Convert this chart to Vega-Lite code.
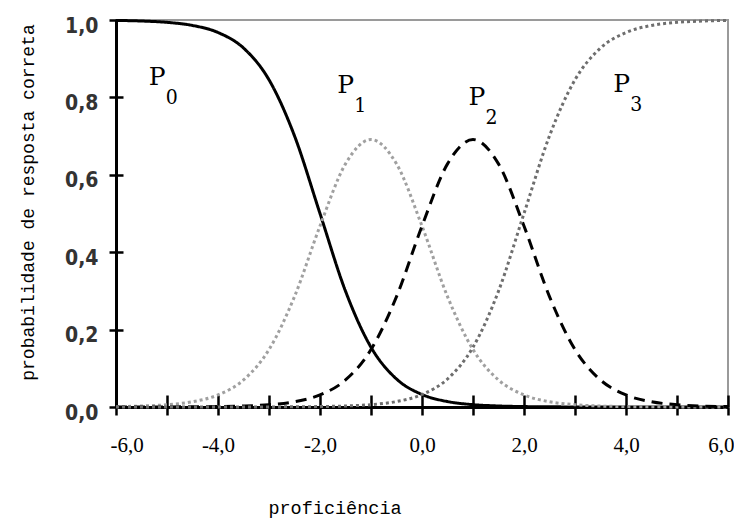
{
  "$schema": "https://vega.github.io/schema/vega-lite/v6.json",
  "width": 612,
  "height": 387,
  "autosize": {"type": "none"},
  "padding": {"left": 116, "top": 20, "right": 6, "bottom": 116},
  "background": "white",
  "config": {
    "view": {"stroke": "#9a9a9a", "strokeWidth": 2},
    "axis": {"grid": false}
  },
  "datasets": {
    "curves": [
      {"x": -6, "s": "P0", "p": 0.9989}, {"x": -6, "s": "P1", "p": 0.0011}, {"x": -6, "s": "P2", "p": 0}, {"x": -6, "s": "P3", "p": 0},
      {"x": -5.5, "s": "P0", "p": 0.9974}, {"x": -5.5, "s": "P1", "p": 0.0025}, {"x": -5.5, "s": "P2", "p": 0.0001}, {"x": -5.5, "s": "P3", "p": 0},
      {"x": -5, "s": "P0", "p": 0.9939}, {"x": -5, "s": "P1", "p": 0.0059}, {"x": -5, "s": "P2", "p": 0.0002}, {"x": -5, "s": "P3", "p": 0},
      {"x": -4.5, "s": "P0", "p": 0.9859}, {"x": -4.5, "s": "P1", "p": 0.0136}, {"x": -4.5, "s": "P2", "p": 0.0005}, {"x": -4.5, "s": "P3", "p": 0},
      {"x": -4, "s": "P0", "p": 0.9677}, {"x": -4, "s": "P1", "p": 0.0312}, {"x": -4, "s": "P2", "p": 0.0011}, {"x": -4, "s": "P3", "p": 0},
      {"x": -3.5, "s": "P0", "p": 0.9276}, {"x": -3.5, "s": "P1", "p": 0.0698}, {"x": -3.5, "s": "P2", "p": 0.0025}, {"x": -3.5, "s": "P3", "p": 0.0001},
      {"x": -3, "s": "P0", "p": 0.8455}, {"x": -3, "s": "P1", "p": 0.1484}, {"x": -3, "s": "P2", "p": 0.0059}, {"x": -3, "s": "P3", "p": 0.0002},
      {"x": -2.5, "s": "P0", "p": 0.7006}, {"x": -2.5, "s": "P1", "p": 0.2853}, {"x": -2.5, "s": "P2", "p": 0.0136}, {"x": -2.5, "s": "P3", "p": 0.0005},
      {"x": -2, "s": "P0", "p": 0.5}, {"x": -2, "s": "P1", "p": 0.4677}, {"x": -2, "s": "P2", "p": 0.0312}, {"x": -2, "s": "P3", "p": 0.0011},
      {"x": -1.5, "s": "P0", "p": 0.2994}, {"x": -1.5, "s": "P1", "p": 0.6282}, {"x": -1.5, "s": "P2", "p": 0.0698}, {"x": -1.5, "s": "P3", "p": 0.0026},
      {"x": -1, "s": "P0", "p": 0.1545}, {"x": -1, "s": "P1", "p": 0.691}, {"x": -1, "s": "P2", "p": 0.1484}, {"x": -1, "s": "P3", "p": 0.0061},
      {"x": -0.5, "s": "P0", "p": 0.0724}, {"x": -0.5, "s": "P1", "p": 0.6282}, {"x": -0.5, "s": "P2", "p": 0.2853}, {"x": -0.5, "s": "P3", "p": 0.0141},
      {"x": 0, "s": "P0", "p": 0.0323}, {"x": 0, "s": "P1", "p": 0.4677}, {"x": 0, "s": "P2", "p": 0.4677}, {"x": 0, "s": "P3", "p": 0.0323},
      {"x": 0.5, "s": "P0", "p": 0.0141}, {"x": 0.5, "s": "P1", "p": 0.2853}, {"x": 0.5, "s": "P2", "p": 0.6282}, {"x": 0.5, "s": "P3", "p": 0.0724},
      {"x": 1, "s": "P0", "p": 0.0061}, {"x": 1, "s": "P1", "p": 0.1484}, {"x": 1, "s": "P2", "p": 0.691}, {"x": 1, "s": "P3", "p": 0.1545},
      {"x": 1.5, "s": "P0", "p": 0.0026}, {"x": 1.5, "s": "P1", "p": 0.0698}, {"x": 1.5, "s": "P2", "p": 0.6282}, {"x": 1.5, "s": "P3", "p": 0.2994},
      {"x": 2, "s": "P0", "p": 0.0011}, {"x": 2, "s": "P1", "p": 0.0312}, {"x": 2, "s": "P2", "p": 0.4677}, {"x": 2, "s": "P3", "p": 0.5},
      {"x": 2.5, "s": "P0", "p": 0.0005}, {"x": 2.5, "s": "P1", "p": 0.0136}, {"x": 2.5, "s": "P2", "p": 0.2853}, {"x": 2.5, "s": "P3", "p": 0.7006},
      {"x": 3, "s": "P0", "p": 0.0002}, {"x": 3, "s": "P1", "p": 0.0059}, {"x": 3, "s": "P2", "p": 0.1484}, {"x": 3, "s": "P3", "p": 0.8455},
      {"x": 3.5, "s": "P0", "p": 0.0001}, {"x": 3.5, "s": "P1", "p": 0.0025}, {"x": 3.5, "s": "P2", "p": 0.0698}, {"x": 3.5, "s": "P3", "p": 0.9276},
      {"x": 4, "s": "P0", "p": 0}, {"x": 4, "s": "P1", "p": 0.0011}, {"x": 4, "s": "P2", "p": 0.0312}, {"x": 4, "s": "P3", "p": 0.9677},
      {"x": 4.5, "s": "P0", "p": 0}, {"x": 4.5, "s": "P1", "p": 0.0005}, {"x": 4.5, "s": "P2", "p": 0.0136}, {"x": 4.5, "s": "P3", "p": 0.9859},
      {"x": 5, "s": "P0", "p": 0}, {"x": 5, "s": "P1", "p": 0.0002}, {"x": 5, "s": "P2", "p": 0.0059}, {"x": 5, "s": "P3", "p": 0.9939},
      {"x": 5.5, "s": "P0", "p": 0}, {"x": 5.5, "s": "P1", "p": 0.0001}, {"x": 5.5, "s": "P2", "p": 0.0025}, {"x": 5.5, "s": "P3", "p": 0.9974},
      {"x": 6, "s": "P0", "p": 0}, {"x": 6, "s": "P1", "p": 0}, {"x": 6, "s": "P2", "p": 0.0011}, {"x": 6, "s": "P3", "p": 0.9989}
    ],
    "labels": [
      {"x": -5.36, "y": 0.832, "sub": "0"},
      {"x": -1.66, "y": 0.811, "sub": "1"},
      {"x": 0.91, "y": 0.78, "sub": "2"},
      {"x": 3.75, "y": 0.814, "sub": "3"}
    ]
  },
  "layer": [
    {
      "data": {"name": "curves"},
      "mark": {"type": "line", "interpolate": "monotone", "strokeWidth": 3},
      "encoding": {
        "x": {
          "field": "x", "type": "quantitative",
          "scale": {"domain": [-6, 6], "nice": false, "zero": false},
          "axis": {
            "values": [-6, -5, -4, -3, -2, -1, 0, 1, 2, 3, 4, 5, 6],
            "labelExpr": "datum.value % 2 == 0 ? (datum.value < 0 ? '-' : '') + replace(format(abs(datum.value), '.1f'), '.', ',') : ''",
            "title": "proficiência",
            "domainColor": "black", "domainWidth": 3,
            "tickColor": "black", "tickWidth": 2.5, "tickSize": 8,
            "labelFont": "Liberation Serif", "labelFontSize": 21, "labelColor": "black",
            "labelPadding": 19, "labelFlush": true, "labelFlushOffset": 6, "labelOverlap": false,
            "titleFont": "Liberation Mono", "titleFontSize": 18.5, "titleFontWeight": "normal", "titleColor": "black",
            "titleX": 218.5, "titleY": 106, "titleAlign": "center", "titleBaseline": "alphabetic"
          }
        },
        "y": {
          "field": "p", "type": "quantitative",
          "scale": {"domain": [0, 1], "nice": false},
          "axis": {
            "values": [0, 0.2, 0.4, 0.6, 0.8, 1],
            "labelExpr": "replace(format(datum.value, '.1f'), '.', ',')",
            "title": "probabilidade de resposta correta",
            "domainColor": "black", "domainWidth": 3,
            "tickColor": "black", "tickWidth": 2.5, "tickSize": 7,
            "labelFont": "DejaVu Sans Condensed", "labelFontWeight": "bold", "labelFontSize": 21, "labelColor": "#333333",
            "labelPadding": 11, "labelOffset": 6, "labelFlush": false, "labelOverlap": false,
            "titleFont": "Liberation Mono", "titleFontSize": 18, "titleFontWeight": "normal", "titleColor": "black",
            "titleAngle": -90, "titleX": -83, "titleY": 182, "titleAlign": "center", "titleBaseline": "alphabetic"
          }
        },
        "color": {
          "field": "s", "type": "nominal", "legend": null,
          "scale": {"domain": ["P0", "P1", "P2", "P3"], "range": ["#000000", "#a0a0a0", "#000000", "#6e6e6e"]}
        },
        "strokeDash": {
          "field": "s", "type": "nominal", "legend": null,
          "scale": {"domain": ["P0", "P1", "P2", "P3"], "range": [[1, 0], [3, 3], [11, 7], [3, 3]]}
        }
      }
    },
    {
      "data": {"name": "labels"},
      "mark": {"type": "text", "font": "DejaVu Serif", "fontSize": 25, "align": "left", "baseline": "alphabetic", "color": "black"},
      "encoding": {
        "x": {
          "field": "x", "type": "quantitative",
          "scale": {"domain": [-6, 6], "nice": false, "zero": false},
          "axis": {
            "orient": "bottom",
            "values": [-6, -5, -4, -3, -2, -1, 0, 1, 2, 3, 4, 5, 6],
            "labels": false, "domain": false, "title": null,
            "tickColor": "black", "tickWidth": 2.5, "tickSize": -12
          }
        },
        "y": {
          "field": "y", "type": "quantitative",
          "scale": {"domain": [0, 1], "nice": false},
          "axis": {
            "orient": "left",
            "values": [0, 0.2, 0.4, 0.6, 0.8, 1],
            "labels": false, "domain": false, "title": null,
            "tickColor": "black", "tickWidth": 2.5, "tickSize": -7
          }
        },
        "text": {"value": "P"}
      }
    },
    {
      "data": {"name": "labels"},
      "mark": {"type": "text", "font": "DejaVu Serif Condensed", "fontSize": 21, "align": "left", "baseline": "alphabetic", "color": "black", "dx": 17, "dy": 19},
      "encoding": {
        "x": {"field": "x", "type": "quantitative", "axis": null},
        "y": {"field": "y", "type": "quantitative", "axis": null},
        "text": {"field": "sub"}
      }
    }
  ],
  "resolve": {"axis": {"x": "independent", "y": "independent"}}
}
